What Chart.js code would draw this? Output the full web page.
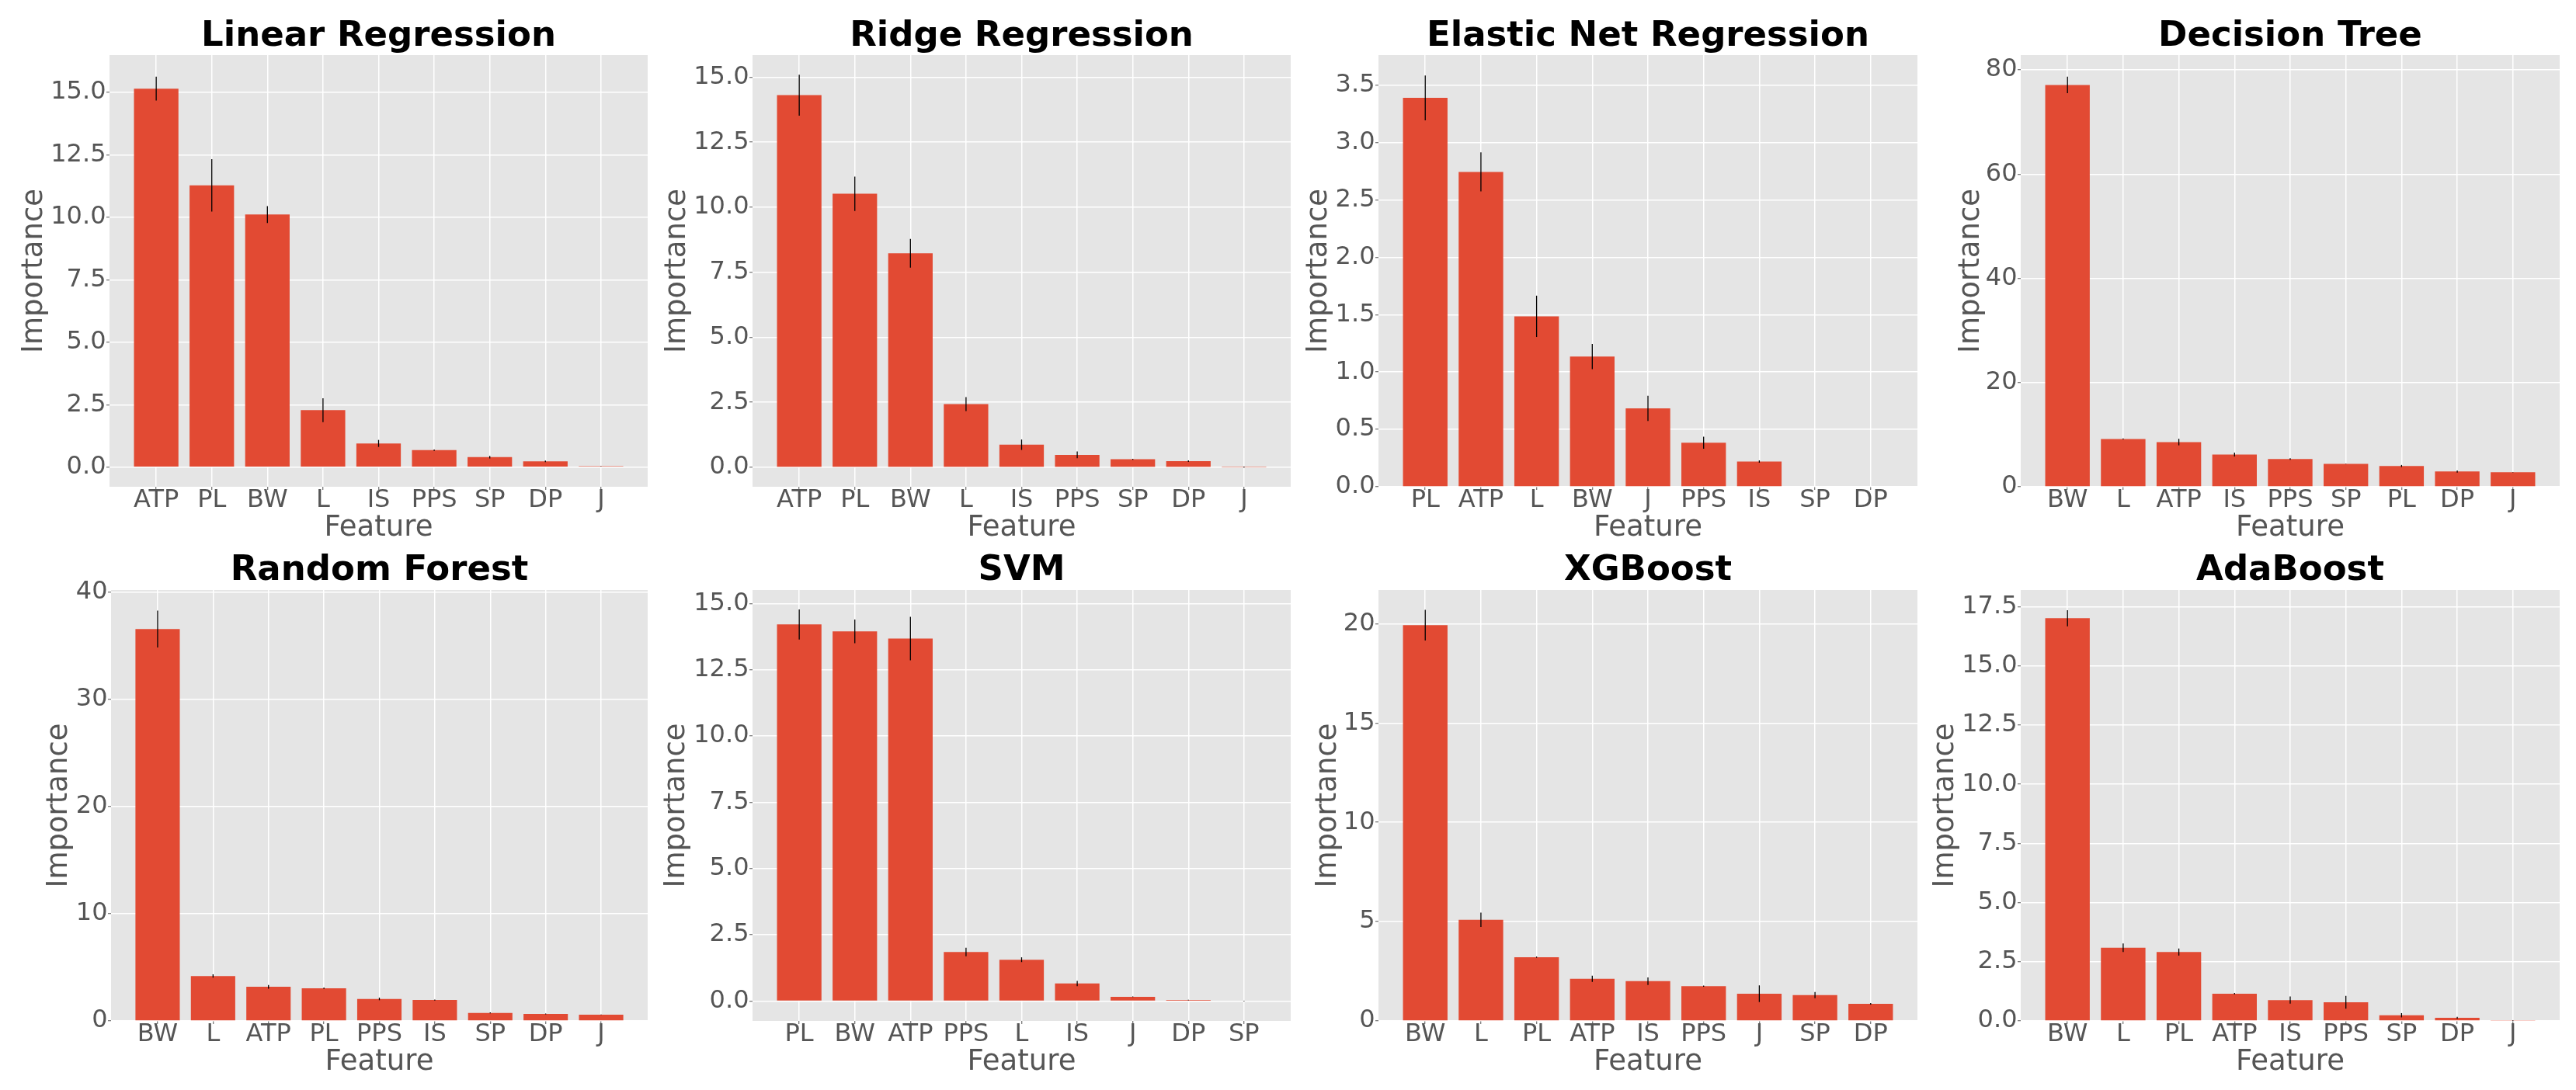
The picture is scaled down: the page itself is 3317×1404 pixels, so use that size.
<!DOCTYPE html>
<html>
<head>
<meta charset="utf-8">
<script src="https://cdn.jsdelivr.net/npm/chart.js@4.4.0/dist/chart.umd.min.js"></script>
<style>
html,body{margin:0;padding:0;background:#ffffff;width:3317px;height:1404px;overflow:hidden;position:relative}
canvas{position:absolute}
</style>
</head>
<body>
<script>
// ---------------- DATA ----------------
const modelTitles = ["Linear Regression","Ridge Regression","Elastic Net Regression","Decision Tree",
                     "Random Forest","SVM","XGBoost","AdaBoost"];

const linearFeatures = ["ATP","PL","BW","L","IS","PPS","SP","DP","J"];
const linearImportance = [15.15, 11.28, 10.11, 2.28, 0.95, 0.68, 0.40, 0.235, 0.04];
const linearError = [0.48, 1.05, 0.34, 0.48, 0.14, 0.03, 0.05, 0.03, 0.01];

const ridgeFeatures = ["ATP","PL","BW","L","IS","PPS","SP","DP","J"];
const ridgeImportance = [14.31, 10.52, 8.23, 2.43, 0.87, 0.48, 0.31, 0.24, 0.01];
const ridgeError = [0.79, 0.66, 0.55, 0.27, 0.20, 0.13, 0.02, 0.03, 0.02];

const elasticFeatures = ["PL","ATP","L","BW","J","PPS","IS","SP","DP"];
const elasticImportance = [3.39, 2.745, 1.486, 1.136, 0.683, 0.384, 0.22, 0, 0];
const elasticError = [0.196, 0.17, 0.18, 0.11, 0.11, 0.053, 0.01, 0, 0];

const treeFeatures = ["BW","L","ATP","IS","PPS","SP","PL","DP","J"];
const treeImportance = [77.13, 9.18, 8.58, 6.18, 5.32, 4.39, 3.99, 2.93, 2.79];
const treeError = [1.6, 0.1, 0.63, 0.37, 0.15, 0.05, 0.2, 0.2, 0.05];

const forestFeatures = ["BW","L","ATP","PL","PPS","IS","SP","DP","J"];
const forestImportance = [36.55, 4.19, 3.18, 3.05, 2.05, 1.95, 0.75, 0.65, 0.58];
const forestError = [1.72, 0.16, 0.17, 0.07, 0.12, 0.05, 0.05, 0.03, 0.02];

const svmFeatures = ["PL","BW","ATP","PPS","L","IS","J","DP","SP"];
const svmImportance = [14.21, 13.95, 13.68, 1.85, 1.56, 0.66, 0.16, 0.04, 0.0];
const svmError = [0.57, 0.45, 0.82, 0.16, 0.09, 0.10, 0.01, 0.01, 0.01];

const xgbFeatures = ["BW","L","PL","ATP","IS","PPS","J","SP","DP"];
const xgbImportance = [19.93, 5.09, 3.21, 2.12, 2.00, 1.75, 1.37, 1.30, 0.86];
const xgbError = [0.77, 0.36, 0.03, 0.16, 0.19, 0.03, 0.42, 0.16, 0.04];

const adaFeatures = ["BW","L","PL","ATP","IS","PPS","SP","DP","J"];
const adaImportance = [17.02, 3.09, 2.91, 1.15, 0.88, 0.79, 0.24, 0.13, 0.02];
const adaError = [0.34, 0.18, 0.15, 0.03, 0.15, 0.27, 0.09, 0.04, 0.01];

// y-axis limits and tick labels
const yLimits = [[-0.785, 16.49], [-0.747, 15.85], [0, 3.763], [0, 82.85],
                 [0, 40.19], [-0.75, 15.51], [0, 21.70], [0, 18.21]];
const yTicksA = [0, 2.5, 5, 7.5, 10, 12.5, 15];
const yTicksEN = [0, 0.5, 1, 1.5, 2, 2.5, 3, 3.5];
const yTicksDT = [0, 20, 40, 60, 80];
const yTicksRF = [0, 10, 20, 30, 40];
const yTicksXGB = [0, 5, 10, 15, 20];
const yTicksADA = [0, 2.5, 5, 7.5, 10, 12.5, 15, 17.5];
const yTickDecimals = [1, 1, 1, 0, 0, 1, 0, 1];

const panelData = [
  [linearFeatures, linearImportance, linearError, yTicksA],
  [ridgeFeatures, ridgeImportance, ridgeError, yTicksA],
  [elasticFeatures, elasticImportance, elasticError, yTicksEN],
  [treeFeatures, treeImportance, treeError, yTicksDT],
  [forestFeatures, forestImportance, forestError, yTicksRF],
  [svmFeatures, svmImportance, svmError, yTicksA],
  [xgbFeatures, xgbImportance, xgbError, yTicksXGB],
  [adaFeatures, adaImportance, adaError, yTicksADA]
];

// ---------------- LAYOUT ----------------
const ROWS = [
  {canvasTop: 0,   plotTop: 71,  plotBottom: 627,  titlePadTop: 24.5},
  {canvasTop: 695, plotTop: 760, plotBottom: 1315, titlePadTop: 17.5}
];
const PANELS = [
  {row:0, plotL:141,  plotR:834,  yTitleX:44},
  {row:0, plotL:969,  plotR:1662, yTitleX:872},
  {row:0, plotL:1775, plotR:2469, yTitleX:1698},
  {row:0, plotL:2602, plotR:3296, yTitleX:2538},
  {row:1, plotL:143,  plotR:834,  yTitleX:76},
  {row:1, plotL:969,  plotR:1662, yTitleX:871},
  {row:1, plotL:1775, plotR:2469, yTitleX:1710},
  {row:1, plotL:2602, plotR:3296, yTitleX:2505}
];
const X_AXIS_H = 75, RIGHT_PAD = 10, LEFT_ROOM = 40;
const X_MIN = -0.84, X_MAX = 8.84;

const BAR_COLOR = '#E24A33';
const BG_COLOR = '#E5E5E5';
const TICK_COLOR = '#555555';

Chart.defaults.font.family = "'DejaVu Sans', 'Noto Sans', sans-serif";

const bgPlugin = {
  id: 'plotBg',
  beforeDraw(chart) {
    const {ctx, chartArea: a} = chart;
    ctx.save();
    ctx.fillStyle = BG_COLOR;
    ctx.fillRect(a.left, a.top, a.right - a.left, a.bottom - a.top);
    ctx.restore();
  }
};
const errPlugin = {
  id: 'errBars',
  afterDatasetsDraw(chart) {
    const ds = chart.data.datasets[0];
    const errs = ds.errors;
    const meta = chart.getDatasetMeta(0);
    const ys = chart.scales.y;
    const ctx = chart.ctx;
    ctx.save();
    ctx.strokeStyle = '#000000';
    ctx.lineWidth = 1.3;
    meta.data.forEach((bar, i) => {
      const v = ds.data[i].y, e = errs[i];
      if (!e) return;
      ctx.beginPath();
      ctx.moveTo(bar.x, ys.getPixelForValue(v - e));
      ctx.lineTo(bar.x, ys.getPixelForValue(v + e));
      ctx.stroke();
    });
    ctx.restore();
  }
};

PANELS.forEach((p, k) => {
  const row = ROWS[p.row];
  const [features, values, errors, yTicks] = panelData[k];
  const left = p.yTitleX - LEFT_ROOM;
  const width = p.plotR + RIGHT_PAD - left;
  const height = row.plotBottom + X_AXIS_H - row.canvasTop;
  const yAxisW = p.plotL - left;
  const titleBoxH = row.plotTop - row.canvasTop;
  const titlePadBottom = titleBoxH - 45 - row.titlePadTop;

  const cv = document.createElement('canvas');
  cv.width = width; cv.height = height;
  cv.style.left = left + 'px'; cv.style.top = row.canvasTop + 'px';
  cv.style.width = width + 'px'; cv.style.height = height + 'px';
  document.body.appendChild(cv);

  const dec = yTickDecimals[k];
  new Chart(cv, {
    type: 'bar',
    data: {
      datasets: [{
        data: features.map((f, i) => ({x: i, y: values[i]})),
        errors: errors,
        backgroundColor: BAR_COLOR,
        borderWidth: 0,
        categoryPercentage: 1.0,
        barPercentage: 0.8
      }]
    },
    options: {
      responsive: false,
      maintainAspectRatio: false,
      animation: false,
      devicePixelRatio: 1,
      layout: {padding: {left: 0, right: RIGHT_PAD, top: 0, bottom: 0}},
      plugins: {
        legend: {display: false},
        tooltip: {enabled: false},
        title: {
          display: true, text: modelTitles[k], fullSize: false,
          color: '#000000',
          font: {size: 45, weight: 'bold', lineHeight: 1},
          padding: {top: row.titlePadTop, bottom: titlePadBottom}
        }
      },
      scales: {
        x: {
          type: 'linear', min: X_MIN, max: X_MAX, bounds: 'data', offset: false,
          afterBuildTicks: s => { s.ticks = features.map((f, i) => ({value: i})); },
          afterFit: s => { s.height = X_AXIS_H; },
          ticks: {
            autoSkip: false, maxRotation: 0, minRotation: 0,
            color: TICK_COLOR, font: {size: 32, lineHeight: 1}, padding: -2,
            callback: v => features[v] !== undefined ? features[v] : ''
          },
          grid: {offset: false, color: '#FFFFFF', lineWidth: 1.5, drawTicks: true, tickLength: 4,
                 tickColor: TICK_COLOR, tickWidth: 1},
          border: {display: false},
          title: {display: true, text: 'Feature', color: TICK_COLOR,
                  font: {size: 37, lineHeight: 1}, padding: {top: 0, bottom: 3}}
        },
        y: {
          type: 'linear', min: yLimits[k][0], max: yLimits[k][1], bounds: 'data',
          afterBuildTicks: s => { s.ticks = yTicks.map(v => ({value: v})); },
          afterFit: s => { s.width = yAxisW; },
          ticks: {
            color: TICK_COLOR, font: {size: 32, lineHeight: 1}, padding: 0.5,
            callback: v => Number(v).toFixed(dec)
          },
          grid: {color: '#FFFFFF', lineWidth: 1.5, drawTicks: true, tickLength: 4,
                 tickColor: TICK_COLOR, tickWidth: 1},
          border: {display: false},
          title: {display: true, text: 'Importance', color: TICK_COLOR,
                  font: {size: 37, lineHeight: 1}, padding: {top: LEFT_ROOM - 18.5, bottom: 0}}
        }
      }
    },
    plugins: [bgPlugin, errPlugin]
  });
});
</script>
</body>
</html>
